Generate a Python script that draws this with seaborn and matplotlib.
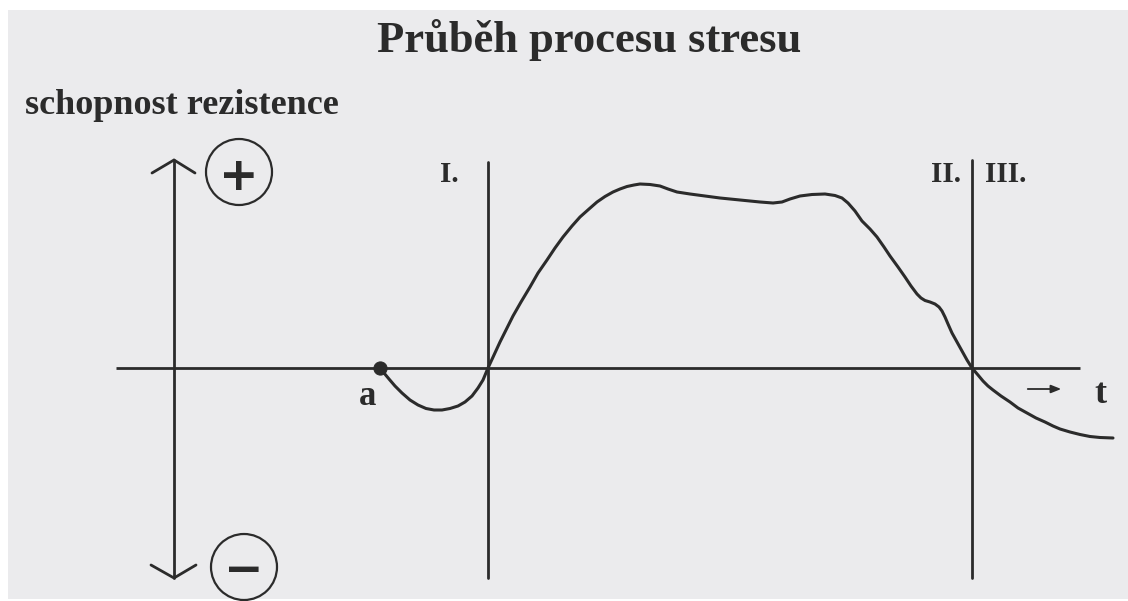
import matplotlib
matplotlib.use("Agg")
import matplotlib.pyplot as plt
import seaborn as sns
import pandas as pd
from matplotlib.patches import Circle, Rectangle

# ---------------- data ----------------
# time position along the baseline (pixels of the original drawing)
t_values = [380, 384, 389, 395, 402, 410, 418, 426, 434, 442, 450, 458, 465,
            472, 478, 483, 488,
            494, 500, 507, 513, 521, 530, 538, 547, 555, 563, 572, 580, 589,
            597, 605, 613, 620, 627, 634, 640, 650, 660, 668, 677, 690, 705,
            720, 740, 760, 773, 782, 790, 800, 812, 825, 835, 842, 848, 855,
            862, 870, 877, 884, 890, 898, 905, 911, 917, 921, 925, 930, 935,
            939, 942, 945, 948, 952, 957, 962, 967, 972,
            978, 983, 988, 993, 1001, 1010, 1018, 1027, 1036, 1045, 1053,
            1060, 1070, 1080, 1090, 1100, 1113]
# row of the curve in the original drawing (baseline row = 368)
curve_row = [368, 373, 379, 386, 393, 400, 405, 408.5, 410, 410, 408.5, 406,
             402, 396, 388, 380, 368,
             355, 342, 328, 316, 302, 287, 273, 260, 248, 237, 226, 217, 209,
             202, 196.5, 192, 189, 186.5, 185, 184, 184.5, 186, 189, 192,
             194, 196, 198, 200, 202, 203, 202, 199, 196, 194.5, 194, 195.5,
             198, 203, 211, 221, 229, 237, 247, 256, 267, 277, 286, 294, 298,
             300.5, 302, 304, 307, 311, 317, 324, 333, 342, 351, 360, 368,
             375, 381, 386, 390, 396, 402, 408, 413, 418, 422, 426,
             429, 432, 434.5, 436.5, 437.5, 438]
start_point_t = [380]
phase_labels = ["I.", "II.", "III."]
phase_t = [488, 972]

title_text = "Průběh procesu stresu"
ylabel_text = "schopnost rezistence"
start_label = "a"
time_label = "t"

# ---------------- layout ----------------
W, H = 1128, 601
BASE = 368          # pixel row of the baseline
INK = "#2b2b2b"
BG = "#ebebed"

sns.set_theme(style="white")
plt.rcParams["font.family"] = ["Liberation Serif", "DejaVu Serif"]

fig = plt.figure(figsize=(W / 100, H / 100), dpi=100)
fig.patch.set_facecolor("white")
ax = fig.add_axes([0, 0, 1, 1])
ax.set_facecolor("none")
ax.set_axis_off()

def py(p):
    return BASE - p

# resistance = height above the baseline
resistance = [BASE - r for r in curve_row]

# scanned page background
ax.add_patch(Rectangle((8, py(599)), W - 8, 589, facecolor=BG,
                       edgecolor="none", zorder=-10, clip_on=False))

lw = 2.0
# baseline (time axis)
ax.plot([116, 1080], [0, 0], color=INK, lw=lw, solid_capstyle="butt")
# resistance axis with open arrowheads both ends
ax.plot([174, 174], [py(160), py(578)], color=INK, lw=lw)
ax.plot([152, 174, 195], [py(173), py(160), py(173)], color=INK, lw=lw,
        solid_joinstyle="miter")
ax.plot([151, 174, 196], [py(565), py(578), py(565)], color=INK, lw=lw,
        solid_joinstyle="miter")
# phase boundary lines
ax.plot([phase_t[0]] * 2, [py(162), py(578)], color=INK, lw=lw)
ax.plot([phase_t[1]] * 2, [py(160), py(578)], color=INK, lw=lw)

# + / - circles
for cx, cy, sym in [(239, 172, "+"), (244, 567, "\u2212")]:
    ax.add_patch(Circle((cx, py(cy)), 33, facecolor="none", edgecolor=INK, lw=1.6))
    ax.text(cx, py(cy), sym, ha="center", va="center_baseline", fontsize=34,
            fontweight="bold", family=["DejaVu Sans"], color=INK)

# stress curve
df = pd.DataFrame({"t": t_values, "r": resistance})
sns.lineplot(data=df, x="t", y="r", ax=ax, color=INK, lw=2.2, sort=False,
             estimator=None)
sns.scatterplot(x=start_point_t, y=[0], ax=ax, color=INK, s=90,
                edgecolor=INK, zorder=5)
ax.set_xlim(0, W)
ax.set_ylim(-(H - BASE), BASE)

# texts
ax.text(589, py(52), title_text, ha="center", va="baseline", fontsize=32,
        fontweight="bold", color=INK)
ax.text(25, py(114), ylabel_text, ha="left", va="baseline", fontsize=26,
        fontweight="bold", color=INK)
ax.text(440, py(182), phase_labels[0], ha="left", va="baseline", fontsize=21,
        fontweight="bold", color=INK)
ax.text(961, py(182), phase_labels[1], ha="right", va="baseline", fontsize=21,
        fontweight="bold", color=INK)
ax.text(985, py(182), phase_labels[2], ha="left", va="baseline", fontsize=21,
        fontweight="bold", color=INK)
ax.text(368, py(405), start_label, ha="center", va="baseline", fontsize=25,
        fontweight="bold", color=INK)
ax.text(1100, py(403), time_label, ha="center", va="baseline", fontsize=26,
        fontweight="bold", color=INK)
ax.annotate("", xy=(1064, py(389)), xytext=(1025, py(389)),
            arrowprops=dict(arrowstyle="-|>,head_length=0.5,head_width=0.2",
                            color=INK, lw=1.3))

fig.savefig("out.png", dpi=100, facecolor=fig.get_facecolor())
